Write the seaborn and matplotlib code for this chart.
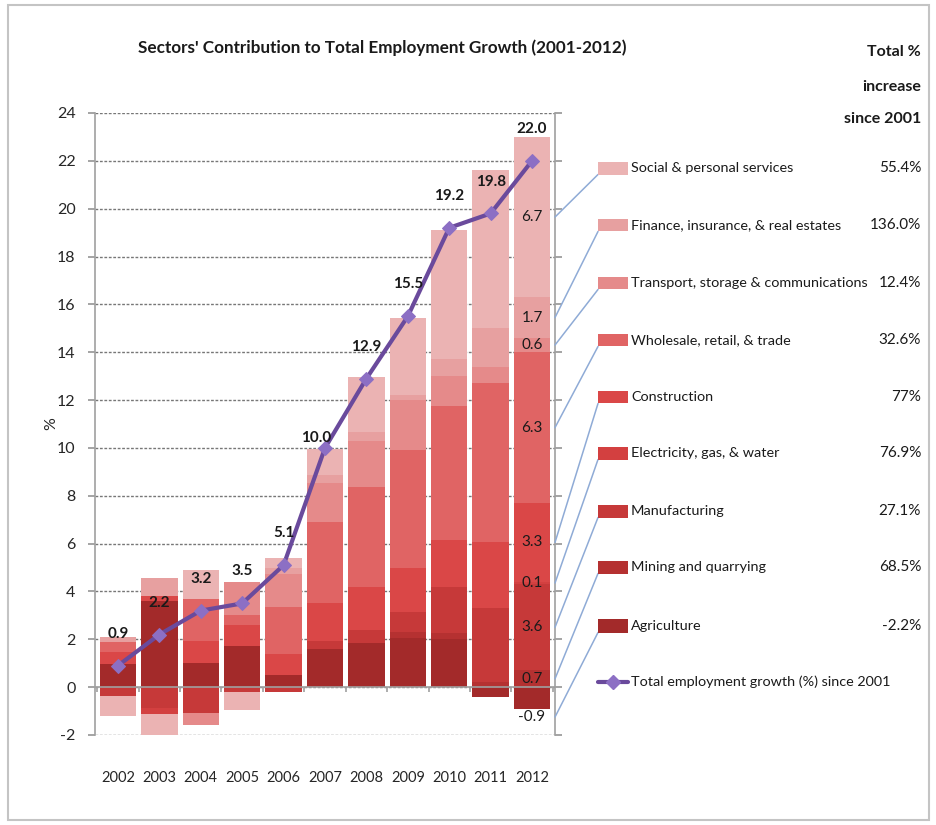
import numpy as np
import pandas as pd
import seaborn as sns
import matplotlib
matplotlib.use("Agg")
import matplotlib.pyplot as plt
from matplotlib.patches import Rectangle
from matplotlib.lines import Line2D

# ---- data -------------------------------------------------------------
years = ["2002", "2003", "2004", "2005", "2006", "2007",
         "2008", "2009", "2010", "2011", "2012"]

total_growth = [0.9, 2.2, 3.2, 3.5, 5.1, 10.0, 12.9, 15.5, 19.2, 19.8, 22.0]

agriculture   = [0.96, 3.6, 1.0, 1.7, 0.5, 1.6, 1.85, 2.05, 2.0, -0.43, -0.9]
mining        = [0.0, 0.0, 0.0, 0.0, 0.0, 0.0, 0.0, 0.25, 0.25, 0.22, 0.7]
manufacturing = [-0.37, -0.87, -1.08, -0.2, -0.2, 0.35, 0.55, 0.85, 1.95, 3.1, 3.6]
electricity   = [0.0, -0.25, 0.0, 0.0, 0.0, 0.0, 0.0, 0.0, 0.0, 0.0, 0.1]
construction  = [0.51, 0.2, 0.95, 0.9, 0.9, 1.55, 1.8, 1.85, 1.95, 2.75, 3.3]
wholesale     = [0.42, 0.0, 1.75, 0.4, 1.95, 3.4, 4.15, 4.9, 5.6, 6.65, 6.3]
transport     = [0.0, 0.0, -0.52, 1.4, 1.4, 1.65, 1.95, 2.1, 1.25, 0.65, 0.6]
finance       = [0.21, 0.77, 0.0, 0.0, 0.25, 0.3, 0.35, 0.2, 0.7, 1.65, 1.7]
social        = [-0.83, -0.88, 1.2, -0.77, 0.4, 1.1, 2.3, 3.25, 5.4, 6.6, 6.7]

sector_names = ["Agriculture", "Mining and quarrying", "Manufacturing",
                "Electricity, gas, & water", "Construction",
                "Wholesale, retail, & trade",
                "Transport, storage & communications",
                "Finance, insurance, & real estates",
                "Social & personal services"]
sector_increase = ["-2.2%", "68.5%", "27.1%", "76.9%", "77%",
                   "32.6%", "12.4%", "136.0%", "55.4%"]
sector_values = [agriculture, mining, manufacturing, electricity, construction,
                 wholesale, transport, finance, social]
sector_colors = ["#a32a2a", "#b53131", "#c63939", "#d34040", "#da4747",
                 "#e06464", "#e58a8a", "#e7a0a0", "#ebb3b3"]

yticks = list(range(-2, 25, 2))

# ---- style ------------------------------------------------------------
sns.set_theme(style="white")
plt.rcParams["font.family"] = ["Lato", "DejaVu Sans"]
plt.rcParams["text.color"] = "#1a1a1a"

W, H = 936, 825
fig = plt.figure(figsize=(W / 100, H / 100), dpi=100)
fig.patch.set_facecolor("white")

def fx(px):
    return px / W

def fy(py):
    return 1 - py / H

ax = fig.add_axes([fx(95), fy(735), fx(555) - fx(95), fy(113) - fy(735)])

df = pd.DataFrame({name: vals for name, vals in zip(sector_names, sector_values)})
df.index = years
x = np.arange(len(years))

# stacked bars: positives grow upward, negatives downward
pos_base = np.zeros(len(years))
neg_base = np.zeros(len(years))
bar_w = 0.88
for name, color in zip(sector_names, sector_colors):
    vals = df[name].to_numpy()
    pos = np.where(vals > 0, vals, 0)
    neg = np.where(vals < 0, vals, 0)
    ax.bar(x, pos, bottom=pos_base, width=bar_w, color=color, linewidth=0, zorder=2)
    ax.bar(x, neg, bottom=neg_base, width=bar_w, color=color, linewidth=0, zorder=2)
    pos_base += pos
    neg_base += neg

# total growth line
line_df = pd.DataFrame({"pos": x, "total": total_growth})
sns.lineplot(data=line_df, x="pos", y="total", ax=ax, color="#6a4a9c",
             linewidth=3, marker="D", markersize=7, markerfacecolor="#8c6fc4",
             markeredgecolor="#8c6fc4", zorder=4)

# total labels above points
for i, v in enumerate(total_growth):
    off = (0, 23)
    if years[i] == "2007":
        off = (-6, 7)
    ax.annotate(f"{v:.1f}", (x[i], v), xytext=off, textcoords="offset points",
                ha="center", va="center", fontsize=11, fontweight="bold",
                color="#1a1a1a", zorder=5)

# 2012 segment labels
last = len(years) - 1
label_y = {}
pb, nb = 0.0, 0.0
for name in sector_names:
    v = df[name].iloc[last]
    if v >= 0:
        cy = pb + v / 2
        pb += v
    else:
        cy = nb + v - 0.35
        nb += v
    label_y[name] = cy
    ax.text(x[last], cy, f"{v:.1f}", ha="center", va="center",
            fontsize=11, color="#1a1a1a", zorder=5)

# axes styling
ax.set_xlim(-0.555, len(years) - 1 + 0.555)
ax.set_ylim(-2, 24)
ax.set_yticks(yticks)
ax.set_yticklabels([str(t) for t in yticks], fontsize=11.5)
ax.set_xticks(x)
ax.set_xticklabels(years, fontsize=10.5)
ax.tick_params(axis="x", length=0, pad=26)
ax.tick_params(axis="y", left=True, right=True, direction="out", length=5,
               color="#999999", pad=9)
ax.grid(axis="y", color="#777777", linestyle=(0, (2, 1.2)), linewidth=1, zorder=0)
ax.grid(axis="x", visible=False)
for side in ["top", "bottom"]:
    ax.spines[side].set_visible(False)
for side in ["left", "right"]:
    ax.spines[side].set_color("#a0a0a0")
    ax.spines[side].set_linewidth(1.2)
ax.axhline(0, color="#a0a0a0", linewidth=1.2, zorder=3)
ax.vlines(np.arange(-0.5, len(years), 1.0), 0, -0.2, color="#a0a0a0",
          linewidth=1.2, zorder=3)
ax.set_xlabel("")
ax.set_ylabel("%", fontsize=11.5)
ax.yaxis.set_label_coords(-0.08, 0.5)
ax.set_facecolor("white")

# title and header
fig.text(fx(382), fy(48), "Sectors' Contribution to Total Employment Growth (2001-2012)",
         ha="center", va="center", fontsize=12.3, fontweight="bold")
for txt, py in [("Total %", 52), ("increase", 87), ("since 2001", 119)]:
    fig.text(fx(921), fy(py), txt, ha="right", va="center", fontsize=11.5,
             fontweight="bold")

# legend with leader lines
row_y = {"Social & personal services": 168,
         "Finance, insurance, & real estates": 225,
         "Transport, storage & communications": 283,
         "Wholesale, retail, & trade": 340,
         "Construction": 397,
         "Electricity, gas, & water": 453,
         "Manufacturing": 511,
         "Mining and quarrying": 567,
         "Agriculture": 626}
to_fig = fig.transFigure.inverted()
xr = ax.get_xlim()[1]
for name, color, pct in zip(sector_names, sector_colors, sector_increase):
    ry = row_y[name]
    fig.patches.append(Rectangle((fx(598), fy(ry + 6.5)), fx(30), fy(ry - 6.5) - fy(ry + 6.5),
                                 transform=fig.transFigure, facecolor=color,
                                 edgecolor="none", zorder=3))
    fig.text(fx(631), fy(ry), name, ha="left", va="center", fontsize=10.4)
    fig.text(fx(921), fy(ry), pct, ha="right", va="center", fontsize=11)
    sx, sy = to_fig.transform(ax.transData.transform((xr, label_y[name])))
    fig.lines.append(Line2D([sx, fx(598)], [sy, fy(ry + 6.5)], transform=fig.transFigure,
                            color="#8fabd6", linewidth=1.1, zorder=2))

ly = 682
fig.lines.append(Line2D([fx(598), fx(628)], [fy(ly), fy(ly)], transform=fig.transFigure,
                        color="#6a4a9c", linewidth=3, zorder=3))
fig.lines.append(Line2D([fx(613)], [fy(ly)], transform=fig.transFigure, marker="D",
                        markersize=7, color="#8c6fc4", zorder=4))
fig.text(fx(631), fy(ly), "Total employment growth (%) since 2001", ha="left",
         va="center", fontsize=10.4)

# outer frame
fig.patches.append(Rectangle((fx(8), fy(820)), fx(921), fy(5) - fy(820),
                             transform=fig.transFigure, facecolor="none",
                             edgecolor="#c4c4c4", linewidth=1.5, zorder=1))

fig.savefig("out.png", dpi=100, facecolor="white")
